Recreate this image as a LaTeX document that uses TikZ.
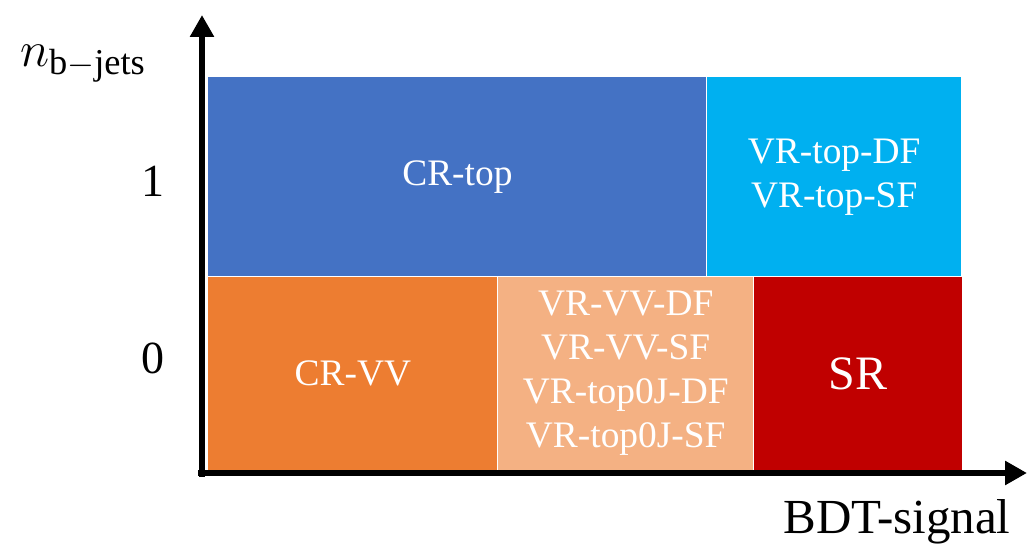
\documentclass[tikz,border=0pt]{standalone}
\usepackage{fontspec}
\setmainfont{Liberation Serif}
\usetikzlibrary{positioning,arrows.meta}

\definecolor{crtopblue}{HTML}{4472C4}
\definecolor{vrtopblue}{HTML}{00B0F0}
\definecolor{crvvorange}{HTML}{ED7D31}
\definecolor{vrvvorange}{HTML}{F4B183}
\definecolor{srred}{HTML}{C00000}

\begin{document}
\begin{tikzpicture}[
x=0.5pt, y=-0.5pt,
cell/.style={rectangle, draw=none, inner sep=0pt, text=white, align=center,
  font=\fontsize{18.7}{22}\selectfont},
axis/.style={line width=3pt, -{Triangle[width=11.5pt,length=11pt]}},
ticklabel/.style={font=\fontsize{23}{26}\selectfont}
]
\useasboundingbox (0,0) rectangle (1027,549);

\node[cell, fill=crtopblue, anchor=north west, minimum width=249pt, minimum height=99.5pt](crtop) at (208,77){CR-top};
\node[cell, fill=vrtopblue, minimum width=127pt, minimum height=99.5pt](vrtop)[right=0pt of crtop]{VR-top-DF\\VR-top-SF};

\node[cell, fill=crvvorange, anchor=north west, minimum width=144.5pt, minimum height=96.5pt](crvv) at (crtop.south west){CR-VV};
\node[cell, fill=vrvvorange, minimum width=127.5pt, minimum height=96.5pt](vrvv)[right=0pt of crvv]{VR-VV-DF\\VR-VV-SF\\VR-top0J-DF\\VR-top0J-SF};
\node[cell, fill=srred, minimum width=104pt, minimum height=96.5pt, font=\fontsize{24}{26}\selectfont](sr)[right=0pt of vrvv]{SR};

% axes
\coordinate (ybase) at (202,477);
\coordinate (ytip) at (202,15);
\coordinate (xbase) at (198,473);
\coordinate (xtip) at (1027,473);
\draw[axis] (ybase) -- (ytip);
\draw[axis] (xbase) -- (xtip);

\node[ticklabel](one) at (153,181){1};
\node[ticklabel](zero) at (153,358){0};
\node[font=\fontsize{26}{28}\selectfont](ylabel) at (83,64){$n_{\mathrm{b-jets}}$};
\node[font=\fontsize{24.5}{26}\selectfont](xlabel) at (897,522){BDT-signal};
\end{tikzpicture}
\end{document}
